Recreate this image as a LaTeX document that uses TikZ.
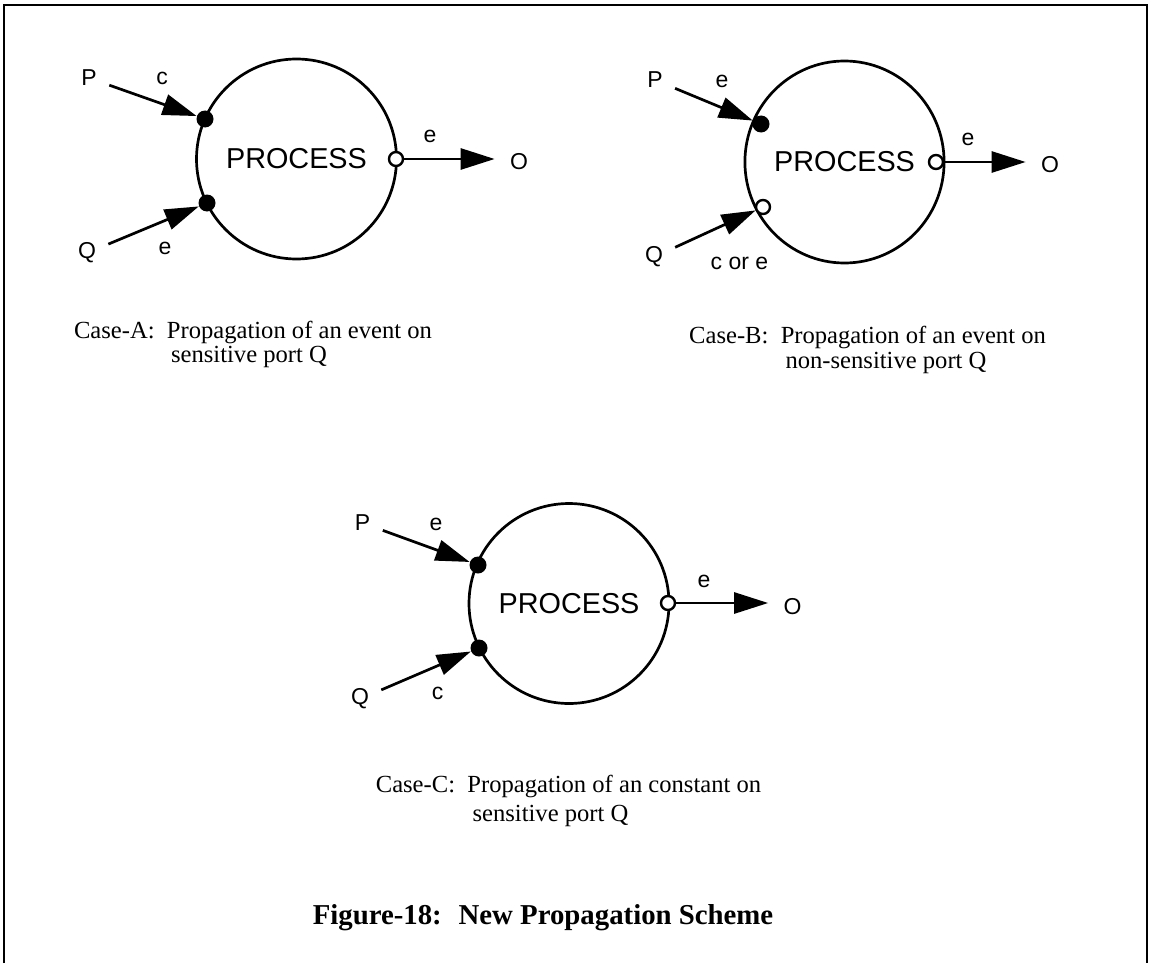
\documentclass[tikz,border=0pt]{standalone}
\usepackage{fontspec}
\setmainfont{Liberation Serif}
\newfontfamily\labelsans{Liberation Sans}
\usetikzlibrary{arrows.meta,shapes.geometric}
\begin{document}
\begin{tikzpicture}[x=0.5pt,y=-0.5pt,
  proc/.style={draw, line width=1.35pt, circle, minimum size=100pt, inner sep=0pt,
    font=\labelsans\fontsize{14.4}{16}\selectfont},
  procell/.style={draw, line width=1.35pt, ellipse, minimum width=92.5pt, minimum height=101pt,
    inner sep=0pt, font=\labelsans\fontsize{14.4}{16}\selectfont},
  port/.style={circle, fill=black, minimum size=8.5pt, inner sep=0pt},
  openport/.style={circle, draw, fill=white, line width=1.2pt, minimum size=7pt, inner sep=0pt},
  sig/.style={font=\labelsans\fontsize{11.5}{13}\selectfont, inner sep=0pt},
  feed/.style={line width=1.35pt, -{Triangle[length=17pt,width=10.5pt]}},
  infeed/.style={feed, shorten <=6.5pt},
  outfeed/.style={feed, shorten >=7.5pt},
  caption/.style={font=\fontsize{12.3}{14}\selectfont, inner sep=0pt},
  figtitle/.style={font=\bfseries\fontsize{14.4}{17}\selectfont, inner sep=0pt},
  frame/.style={line width=1.4pt}
]
\useasboundingbox (0,0) rectangle (1150,963);

% open frame around the figure
\draw[frame] (4,963) -- (4,5) -- (1147,5) -- (1147,963);

% ---- Case A ----
\node[proc] (A) at (296.5,159) {PROCESS};
\node[port] (Ap) at (205,119) {};
\node[port] (Aq) at (207,203) {};
\node[openport] (Ao) at (396,159) {};
\node[sig] (AP) at (89,78) {P};
\node[sig] (AQ) at (87,253) {Q};
\node[sig] (AO) at (519,162) {O};
\node[sig] (Apl) at (162,78) {c};
\node[sig] (Aql) at (165,248) {e};
\node[sig] (Aol) at (430,136) {e};
\draw[infeed] (AP) -- (Ap);
\draw[infeed] (AQ) -- (Aq);
\draw[outfeed] (Ao) -- (AO.west |- Ao);
\node[caption] (capA1) at (253,332) {Case-A:~ Propagation of an event on};
\node[caption] (capA2) at (249,357) {sensitive port Q};

% ---- Case B ----
\node[procell] (B) at (844.5,162) {PROCESS};
\node[port] (Bp) at (761,124) {};
\node[openport] (Bq) at (763,207) {};
\node[openport] (Bo) at (936,162) {};
\node[sig] (BP) at (655,80) {P};
\node[sig] (BQ) at (654,257) {Q};
\node[sig] (BO) at (1050,165) {O};
\node[sig] (Bpl) at (722,81) {e};
\node[sig] (Bql) at (739.5,263) {c or e};
\node[sig] (Bol) at (968,139.5) {e};
\draw[infeed] (BP) -- (Bp);
\draw[infeed] (BQ) -- (Bq);
\draw[outfeed] (Bo) -- (BO.west |- Bo);
\node[caption] (capB1) at (867.5,337) {Case-B:~ Propagation of an event on};
\node[caption] (capB2) at (886,363) {non-sensitive port Q};

% ---- Case C ----
\node[proc] (C) at (569,603.5) {PROCESS};
\node[port] (Cp) at (478,565) {};
\node[port] (Cq) at (479,648) {};
\node[openport] (Co) at (668,603) {};
\node[sig] (CP) at (362.5,523) {P};
\node[sig] (CQ) at (360,699) {Q};
\node[sig] (CO) at (792.5,607) {O};
\node[sig] (Cpl) at (436,524) {e};
\node[sig] (Cql) at (437.5,693) {c};
\node[sig] (Col) at (704,581) {e};
\draw[infeed] (CP) -- (Cp);
\draw[infeed] (CQ) -- (Cq);
\draw[outfeed] (Co) -- (CO.west |- Co);
\node[caption] (capC1) at (568.5,786) {Case-C:~ Propagation of an constant on};
\node[caption] (capC2) at (550.5,816) {sensitive port Q};

% ---- figure title ----
\node[figtitle] (fig) at (543,918) {Figure-18:~ New Propagation Scheme};
\end{tikzpicture}
\end{document}
